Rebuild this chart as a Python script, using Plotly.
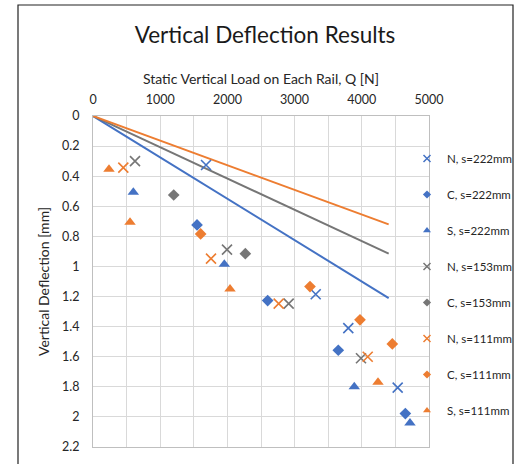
import plotly.graph_objects as go

# ---- data ----
series_names = ["N, s=222mm", "C, s=222mm", "S, s=222mm", "N, s=153mm",
                "C, s=153mm", "N, s=111mm", "C, s=111mm", "S, s=111mm"]
series_load = [
    [1682, 3314, 3799, 4534],
    [1548, 2599, 3650, 4648],
    [600, 1954, 3888, 4717],
    [625, 1994, 2912, 3988],
    [1201, 2267],
    [451, 1756, 2763, 4088],
    [1602, 3229, 3973, 4454],
    [238, 551, 2039, 4241],
]
series_defl = [
    [0.326, 1.185, 1.41, 1.805],
    [0.724, 1.227, 1.557, 1.978],
    [0.507, 0.986, 1.80, 2.04],
    [0.30, 0.888, 1.247, 1.61],
    [0.525, 0.915],
    [0.343, 0.948, 1.247, 1.60],
    [0.784, 1.134, 1.355, 1.515],
    [0.354, 0.706, 1.15, 1.77],
]
line_load = [0, 4400]
line_defl_222 = [0, 1.21]
line_defl_153 = [0, 0.915]
line_defl_111 = [0, 0.72]

x_ticks = [0, 1000, 2000, 3000, 4000, 5000]

BLUE = "#4472C4"
ORANGE = "#ED7D31"
GRAY = "#767676"
series_colors = [BLUE, BLUE, BLUE, GRAY, GRAY, ORANGE, ORANGE, ORANGE]
series_symbols = ["x-thin", "diamond", "triangle-up", "x-thin", "diamond",
                  "x-thin", "diamond", "triangle-up"]


def marker(sym, col, scale=1.0):
    if sym == "x-thin":
        return dict(symbol=sym, size=10 * scale, color=col,
                    line=dict(color=col, width=1.6 if scale == 1 else 1.5))
    if sym == "diamond":
        return dict(symbol=sym, size=9 * scale, color=col, line=dict(width=0))
    return dict(symbol=sym, size=10 * scale, color=col, line=dict(width=0))


fig = go.Figure()

for ld, col in [(line_defl_222, BLUE), (line_defl_153, GRAY), (line_defl_111, ORANGE)]:
    fig.add_trace(go.Scatter(x=line_load, y=ld, mode="lines",
                             line=dict(color=col, width=2), showlegend=False,
                             hoverinfo="skip"))

for i, name in enumerate(series_names):
    sym, col = series_symbols[i], series_colors[i]
    fig.add_trace(go.Scatter(x=series_load[i], y=series_defl[i], mode="markers",
                             name=name, marker=marker(sym, col), legendgroup=name,
                             showlegend=False))
    # legend proxy with smaller symbol (no data)
    fig.add_trace(go.Scatter(x=[None], y=[None], mode="markers", name=name,
                             marker=marker(sym, col, 0.7), legendgroup=name,
                             showlegend=True, hoverinfo="skip"))

W, H = 518, 464
L, R, T, B = 93, 89, 116, 17
pw, ph = W - L - R, H - T - B


def px_x(p):
    return (p - L) / pw


def px_y(p):
    return (H - B - p) / ph


fig.add_shape(type="rect", xref="paper", yref="paper",
              x0=px_x(18), x1=px_x(513), y0=px_y(475), y1=px_y(5),
              line=dict(color="#222222", width=1.2), fillcolor="rgba(0,0,0,0)")

FONT = "Lato, Carlito, 'DejaVu Sans', sans-serif"
TXT = "#262626"

fig.update_layout(
    width=W, height=H,
    margin=dict(l=L, r=R, t=T, b=B, pad=0, autoexpand=False),
    paper_bgcolor="white", plot_bgcolor="white",
    font=dict(family=FONT, color=TXT, size=12),
    title=dict(text="Vertical Deflection Results", x=265 / W, xanchor="center",
               y=1 - 35 / H, yanchor="middle", yref="container",
               font=dict(size=22.5, color="#1a1a1a")),
    xaxis=dict(side="top", range=[0, 5000], tickvals=x_ticks,
               showgrid=True, gridcolor="#D9D9D9", gridwidth=1,
               minor=dict(dtick=500, showgrid=True, gridcolor="#D9D9D9", gridwidth=1),
               showline=True, linecolor="#BFBFBF", mirror=True, zeroline=False,
               ticks="outside", ticklen=6, tickcolor="rgba(0,0,0,0)",
               tickfont=dict(size=12.5, color=TXT),
               title=dict(text="Static Vertical Load on Each Rail, Q [N]",
                          font=dict(size=14, color=TXT), standoff=4)),
    yaxis=dict(range=[2.2, 0], dtick=0.2, tick0=0,
               showgrid=True, gridcolor="#D9D9D9", gridwidth=1,
               showline=True, linecolor="#BFBFBF", mirror=True, zeroline=False,
               ticks="outside", ticklen=10, tickcolor="rgba(0,0,0,0)",
               tickfont=dict(size=12.5, color=TXT),
               title=dict(text="Vertical Deflection [mm]",
                          font=dict(size=14, color=TXT), standoff=9)),
    legend=dict(x=px_x(407), xanchor="left", y=px_y(144), yanchor="top",
                bgcolor="rgba(0,0,0,0)", font=dict(size=11.5, color=TXT),
                tracegroupgap=17, itemwidth=30),
    showlegend=True,
)

fig.write_html("out.html")
